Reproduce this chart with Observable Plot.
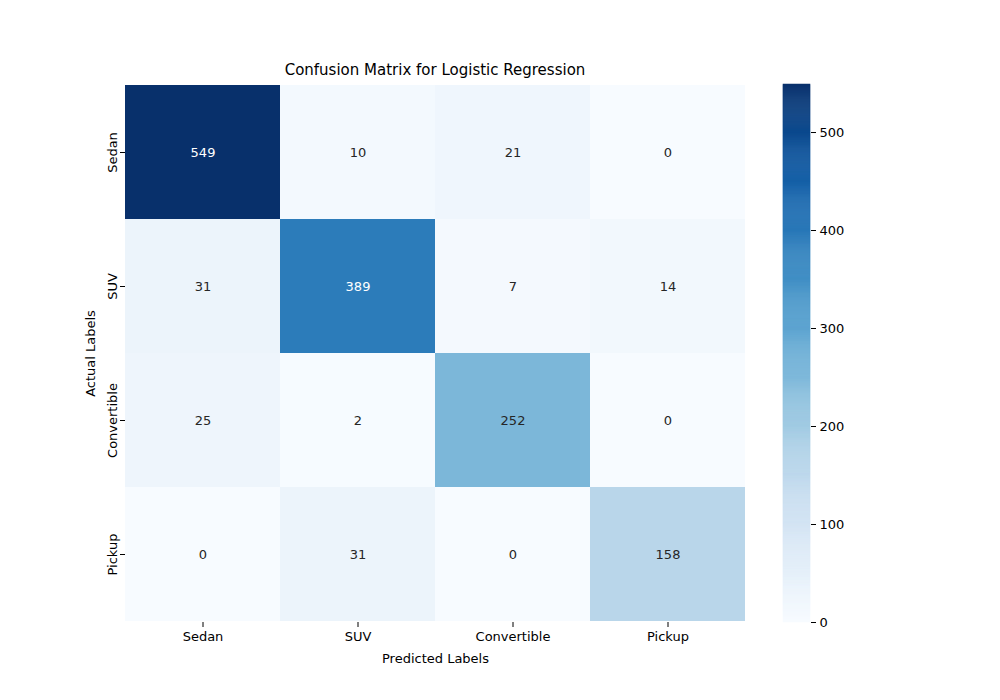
<!DOCTYPE html>
<html>
<head>
<meta charset="utf-8">
<script src="https://cdn.jsdelivr.net/npm/d3@7"></script>
<script src="https://cdn.jsdelivr.net/npm/@observablehq/plot@0.6"></script>
<style>
  body { margin: 0; background: #fff; }
  #wrap { position: relative; width: 1000px; height: 700px; font-family: "DejaVu Sans", sans-serif; }
  #wrap > svg { position: absolute; left: 0; top: 0; }
  #title { position: absolute; top: 61px; left: 125px; width: 620px; text-align: center; font-size: 15px; color: #000; }
</style>
</head>
<body>
<div id="wrap"><div id="title">Confusion Matrix for Logistic Regression</div></div>
<script>
  const labels = ["Sedan", "SUV", "Convertible", "Pickup"]
  const matrix = [
    [549, 10, 21, 0],
    [31, 389, 7, 14],
    [25, 2, 252, 0],
    [0, 31, 0, 158]
  ]
  const vmax = 549
  const barTicks = [0, 100, 200, 300, 400, 500]

  const cells = []
  matrix.forEach((row, i) => row.forEach((v, j) => cells.push({actual: labels[i], predicted: labels[j], value: v})))

  const wrap = document.querySelector("#wrap")

  const main = Plot.plot({
    width: 1000, height: 700,
    marginLeft: 125, marginRight: 255, marginTop: 84, marginBottom: 78,
    style: {fontFamily: "DejaVu Sans, sans-serif", fontSize: "13px", color: "#000"},
    x: {domain: labels, padding: 0, label: "Predicted Labels", labelAnchor: "center", labelOffset: 40, tickSize: 5},
    y: {domain: labels, padding: 0, label: "Actual Labels", labelAnchor: "center", labelOffset: 40, tickSize: 5, tickRotate: -90},
    color: {type: "linear", scheme: "blues", domain: [0, vmax]},
    marks: [
      Plot.cell(cells, {x: "predicted", y: "actual", fill: "value"}),
      Plot.text(cells, {x: "predicted", y: "actual", text: "value", fontSize: 13,
        fill: d => d.value > vmax / 2 ? "white" : "#262626"})
    ]
  })
  wrap.appendChild(main)

  // colour bar
  const steps = d3.range(0, vmax, 1).map(v => ({v0: v, v1: v + 1}))
  const bar = Plot.plot({
    width: 1000, height: 700,
    marginLeft: 783, marginRight: 190, marginTop: 84, marginBottom: 78,
    style: {fontFamily: "DejaVu Sans, sans-serif", fontSize: "13px", color: "#000", background: "transparent"},
    x: {domain: [0, 1], axis: null},
    y: {domain: [0, vmax], ticks: barTicks, axis: "right", label: null, tickSize: 5},
    color: {type: "linear", scheme: "blues", domain: [0, vmax]},
    marks: [
      Plot.rect(steps, {x1: 0, x2: 1, y1: "v0", y2: "v1", fill: "v0", stroke: "v0", strokeWidth: 0.5})
    ]
  })
  wrap.appendChild(bar)
</script>
</body>
</html>
